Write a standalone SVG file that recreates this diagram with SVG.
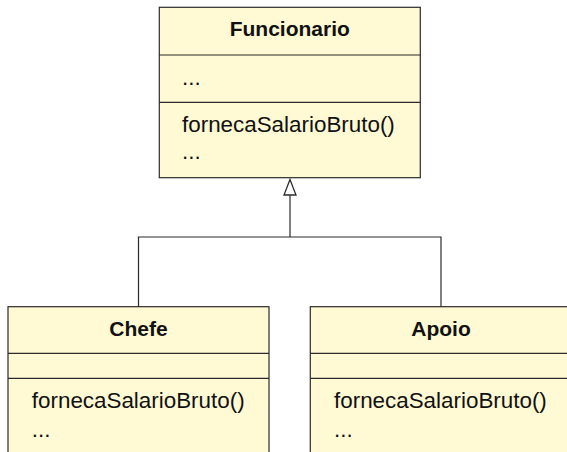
<svg xmlns="http://www.w3.org/2000/svg" width="567" height="452" viewBox="0 0 567 452">
  <style>
    .box { fill: #fff9d4; stroke: #2b2b2b; stroke-width: 1.2; }
    .sep { stroke: #2b2b2b; stroke-width: 1.2; }
    .title { font-family: "Liberation Sans", Arial, sans-serif; font-weight: bold; font-size: 21px; fill: #111; text-anchor: middle; }
    .member { font-family: "Liberation Sans", Arial, sans-serif; font-size: 22.4px; fill: #111; }
    .edge { fill: none; stroke: #2b2b2b; stroke-width: 1.2; }
  </style>
  <rect width="567" height="452" fill="#ffffff"/>

  <g id="connectors">
    <polyline class="edge" points="138.5,307 138.5,237 441,237 441,307"/>
    <line class="edge" x1="290" y1="237" x2="290" y2="195" stroke-width="2.2"/>
    <polygon points="290,179.5 284,195 296,195" fill="#ffffff" stroke="#2b2b2b" stroke-width="1.3"/>
  </g>

  <g id="Funcionario">
    <rect class="box" x="159.3" y="7.3" width="261" height="170.4"/>
    <line class="sep" x1="159.3" y1="55" x2="420.3" y2="55"/>
    <line class="sep" x1="159.3" y1="102.3" x2="420.3" y2="102.3"/>
    <text class="title" x="289.8" y="36">Funcionario</text>
    <text class="member" x="182" y="85">...</text>
    <text class="member" x="182" y="131.7">fornecaSalarioBruto()</text>
    <text class="member" x="182" y="159.3">...</text>
  </g>

  <g id="Chefe">
    <rect class="box" x="8" y="306.7" width="261" height="160"/>
    <line class="sep" x1="8" y1="353.3" x2="269" y2="353.3"/>
    <line class="sep" x1="8" y1="378.3" x2="269" y2="378.3"/>
    <text class="title" x="138.5" y="335.7">Chefe</text>
    <text class="member" x="31.8" y="407.7">fornecaSalarioBruto()</text>
    <text class="member" x="31.8" y="436.7">...</text>
  </g>

  <g id="Apoio">
    <rect class="box" x="310.3" y="306.7" width="261" height="160"/>
    <line class="sep" x1="310.3" y1="353.3" x2="571.3" y2="353.3"/>
    <line class="sep" x1="310.3" y1="378.3" x2="571.3" y2="378.3"/>
    <text class="title" x="441" y="335.7">Apoio</text>
    <text class="member" x="334" y="407.7">fornecaSalarioBruto()</text>
    <text class="member" x="334" y="436.7">...</text>
  </g>
</svg>
